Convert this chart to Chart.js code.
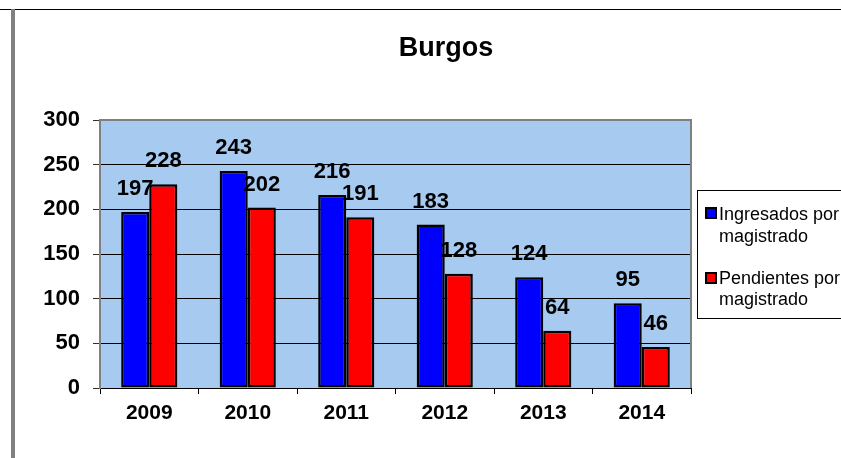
<!DOCTYPE html>
<html>
<head>
<meta charset="utf-8">
<script src="https://cdn.jsdelivr.net/npm/chart.js@4/dist/chart.umd.min.js"></script>
<style>
  html, body { margin: 0; padding: 0; background: #fff; }
  #wrap { width: 841px; height: 458px; }
</style>
</head>
<body>
<div id="wrap"><canvas id="chart" width="841" height="458"></canvas></div>
<script>
var years       = ['2009', '2010', '2011', '2012', '2013', '2014'];
var ingresados  = [197, 243, 216, 183, 124, 95];
var pendientes  = [228, 202, 191, 128, 64, 46];
var seriesNames = [['Ingresados por', 'magistrado'], ['Pendientes por', 'magistrado']];
var titleText   = 'Burgos';

// ─── Frame, plot background and border ───────────────────────────────────────

const framePlugin = {
    id: 'frame',
    beforeDraw(chart) {
        const { ctx, chartArea: a } = chart;
        ctx.save();
        ctx.fillStyle = '#fff';
        ctx.fillRect(0, 0, chart.width, chart.height);
        // outer frame pieces
        ctx.fillStyle = '#000';
        ctx.fillRect(0, 9, chart.width, 1);
        ctx.fillStyle = '#808080';
        ctx.fillRect(11, 9, 4, chart.height - 9);
        // plot area
        ctx.fillStyle = '#A6CAF0';
        ctx.fillRect(a.left, a.top, a.right - a.left, a.bottom - a.top);
        ctx.restore();
    },
    beforeDatasetsDraw(chart) {
        const { ctx, chartArea: a } = chart;
        ctx.save();
        ctx.strokeStyle = '#808080';
        ctx.lineWidth = 2;
        ctx.beginPath();
        ctx.moveTo(a.left, a.top);
        ctx.lineTo(a.right, a.top);
        ctx.lineTo(a.right, a.bottom);
        ctx.stroke();
        ctx.restore();
    },
    afterDraw(chart) {
        const { ctx } = chart;
        ctx.save();
        // title
        ctx.fillStyle = '#000';
        ctx.font = 'bold 27px Arial, "Liberation Sans", sans-serif';
        ctx.textAlign = 'center';
        ctx.textBaseline = 'middle';
        ctx.fillText(titleText, 446, 49);

        // legend box
        ctx.strokeStyle = '#000';
        ctx.lineWidth = 1;
        ctx.strokeRect(697.5, 190.5, 170, 128);
        ctx.font = '18px Arial, "Liberation Sans", sans-serif';
        ctx.textAlign = 'left';
        ctx.textBaseline = 'alphabetic';
        const itemTops = [208, 273];
        const baselines = [[219.5, 242], [283.5, 305]];
        chart.data.datasets.forEach((ds, i) => {
            ctx.fillStyle = ds.backgroundColor;
            ctx.fillRect(706, itemTops[i], 10, 10);
            ctx.strokeStyle = '#000';
            ctx.lineWidth = 2;
            ctx.strokeRect(706, itemTops[i], 10, 10);
            ctx.fillStyle = '#000';
            ds.label.forEach((line, j) => ctx.fillText(line, 719, baselines[i][j]));
        });
        ctx.restore();
    }
};

// ─── Value labels above bars ─────────────────────────────────────────────────

const valueLabels = {
    id: 'valueLabels',
    afterDatasetsDraw(chart) {
        const { ctx } = chart;
        ctx.save();
        ctx.fillStyle = '#000';
        ctx.font = 'bold 22px Arial, "Liberation Sans", sans-serif';
        ctx.textAlign = 'center';
        ctx.textBaseline = 'alphabetic';
        chart.data.datasets.forEach((ds, i) => {
            chart.getDatasetMeta(i).data.forEach((bar, j) => {
                ctx.fillText(String(ds.data[j]), bar.x, bar.y - 17);
            });
        });
        ctx.restore();
    }
};

new Chart(document.getElementById('chart'), {
    type: 'bar',
    data: {
        labels: years,
        datasets: [
            { label: seriesNames[0], data: ingresados, backgroundColor: '#0000FF' },
            { label: seriesNames[1], data: pendientes, backgroundColor: '#FF0000' }
        ]
    },
    options: {
        responsive: false,
        animation: false,
        layout: { padding: { left: 0, top: 120, right: 150, bottom: 0 } },
        datasets: {
            bar: {
                borderColor: '#000',
                borderWidth: 2.5,
                borderSkipped: false,
                categoryPercentage: 0.57,
                barPercentage: 1
            }
        },
        plugins: {
            legend: { display: false },
            title: { display: false },
            tooltip: { enabled: false }
        },
        scales: {
            x: {
                offset: true,
                grid: { drawOnChartArea: false, drawTicks: true, tickLength: 6, color: '#000', offset: true },
                border: { display: true, color: '#000', width: 1 },
                ticks: {
                    color: '#000',
                    padding: 7,
                    font: { family: 'Arial, "Liberation Sans", sans-serif', size: 21, weight: 'bold' }
                },
                afterFit(s) { s.height = 70; }
            },
            y: {
                min: 0,
                max: 300,
                ticks: {
                    stepSize: 50,
                    color: '#000',
                    padding: 13,
                    font: { family: 'Arial, "Liberation Sans", sans-serif', size: 22, weight: 'bold' }
                },
                grid: { color: '#000', lineWidth: 1, tickLength: 7, tickColor: '#333' },
                border: { display: true, color: '#808080', width: 2 },
                afterFit(s) { s.width = 100; }
            }
        }
    },
    plugins: [framePlugin, valueLabels]
});
</script>
</body>
</html>
